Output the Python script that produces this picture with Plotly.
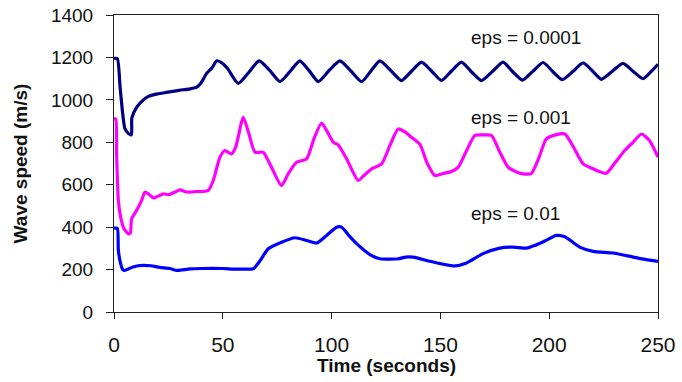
import plotly.graph_objects as go

# eps = 0.0001 (navy)
t_navy = [0, 1.5, 2.8, 4, 5, 6.6, 8, 8.2, 10.4, 13, 15.6, 20, 24, 30, 35, 38, 40, 42.6, 45, 47.2, 49, 52,
          57.1, 62, 66.7, 71.5, 76.3, 81, 85.4, 89.5, 93.9, 99, 103.8, 109, 113.8, 118, 122.2, 127,
          132.1, 136.7, 141.3, 146, 150.5, 155, 159.7, 164, 168.9, 174, 178.8, 183, 187.7, 192.5,
          197.2, 201.5, 206.1, 211, 215.6, 220, 224, 229, 233.9, 238.5, 243.1, 247, 250]
v_navy = [1195, 1195, 1060, 935, 865, 842, 835, 915, 965, 995, 1015, 1028, 1035, 1045, 1052, 1060, 1080, 1125, 1150, 1184, 1178, 1150,
          1078, 1130, 1184, 1140, 1086, 1135, 1184, 1140, 1086, 1140, 1184, 1135, 1086, 1135, 1184, 1140,
          1091, 1135, 1178, 1135, 1091, 1135, 1178, 1135, 1091, 1135, 1178, 1135, 1093, 1135,
          1176, 1135, 1095, 1135, 1174, 1135, 1097, 1135, 1172, 1135, 1100, 1135, 1168]

# eps = 0.001 (magenta)
t_mag = [0, 0.8, 1.2, 2, 3, 4.5, 6.6, 7.5, 8.1, 10.4, 12.7, 14.2, 16, 18.1, 20, 22.7, 25, 28, 30.3, 32.5, 34.9, 38, 41,
         43.3, 45.6, 48.7, 51, 54, 56, 59.4, 62, 64.8, 68.6, 72, 77, 80, 83.9, 88.5, 92, 95.4, 98, 100.8, 103,
         107, 112.2, 115, 118.4, 123, 127, 130.6, 133.5, 136.7, 140.6, 144, 147.5, 151, 155.1, 158.2, 162,
         165.8, 169.5, 173.5, 177, 181.1, 185, 188, 191.8, 195, 198.7, 203, 207.2, 211, 215.6, 220.2, 223,
         226.3, 230, 234.7, 238.5, 242.4, 246, 250]
v_mag = [910, 910, 746, 526, 450, 395, 369, 372, 440, 479, 526, 565, 555, 538, 545, 557, 553, 565, 576, 568, 565, 568, 568,
         573, 620, 730, 761, 745, 780, 918, 840, 753, 753, 690, 596, 650, 706, 722, 820, 891, 850, 800, 788,
         720, 620, 645, 675, 698, 790, 863, 850, 824, 790, 700, 643, 652, 662, 683, 760,
         832, 835, 832, 760, 683, 660, 651, 653, 720, 816, 835, 839, 780, 698, 675, 662,
         654, 700, 761, 800, 839, 810, 730]

# eps = 0.01 (blue)
t_blue = [0, 1.5, 2, 3, 4, 5, 7, 8.8, 11, 13.5, 17, 21, 25.7, 28.8, 31, 34.9, 40, 50, 55, 60, 64, 67, 70.9, 77,
          83.1, 88.5, 93.1, 97.7, 102.3, 104.6, 108, 111.5, 117.6, 122.2, 130.6, 134, 137.5, 145.2, 150,
          156.6, 162, 169.6, 177.3, 183.4, 189.6, 193.4, 198, 203.3, 207.2, 214, 220.2, 229.4, 238.6, 244, 250]
v_blue = [395, 395, 290, 230, 200, 196, 205, 212, 218, 220, 218, 210, 205, 196, 198, 203, 205, 205, 202, 202, 204, 240, 298, 329,
          350, 337, 325, 361, 400, 400, 360, 322, 271, 251, 251, 259, 259, 239, 228,
          217, 231, 275, 301, 306, 301, 314, 335, 361, 355, 306, 286, 278, 259, 248, 239]

labels = ["eps = 0.0001", "eps = 0.001", "eps = 0.01"]
label_t = [163.2, 163.2, 163.2]
label_v = [1293, 916, 464]

x_ticks = [0, 50, 100, 150, 200, 250]
y_ticks = [0, 200, 400, 600, 800, 1000, 1200, 1400]

fig = go.Figure()
for t, v, c in [(t_blue, v_blue, "#0000FF"), (t_mag, v_mag, "#FF00FF"), (t_navy, v_navy, "#000080")]:
    fig.add_trace(go.Scatter(x=t, y=v, mode="lines",
                             line=dict(color=c, width=3.2, shape="spline", smoothing=0.6),
                             showlegend=False, hoverinfo="skip"))

for txt, tx, ty in zip(labels, label_t, label_v):
    fig.add_annotation(x=tx, y=ty, text=txt, showarrow=False, xanchor="left", yanchor="middle",
                       font=dict(family="Liberation Sans, Arial", size=19, color="#111"))

# x-axis title placed as paper annotation for exact position
fig.add_annotation(x=0.5, y=-0.18, xref="paper", yref="paper", text="<b>Time (seconds)</b>",
                   showarrow=False, xanchor="center", yanchor="middle",
                   font=dict(family="Liberation Sans, Arial", size=19, color="#111"))

fig.update_layout(
    width=682, height=382,
    margin=dict(l=114, r=24, t=15, b=70, autoexpand=False),
    paper_bgcolor="white", plot_bgcolor="white",
    font=dict(family="Liberation Sans, Arial", color="#111"),
    hovermode=False,
)
fig.update_xaxes(range=[0, 250], tickvals=x_ticks, ticks="outside", ticklen=6, tickcolor="#222",
                 showline=True, linecolor="#222", linewidth=1, mirror=True, showgrid=False, zeroline=False,
                 tickfont=dict(size=21), ticklabelstandoff=8, automargin=False, ticklabeloverflow="allow")
fig.update_yaxes(range=[0, 1400], tickvals=y_ticks, ticks="outside", ticklen=7, tickcolor="#222",
                 showline=True, linecolor="#222", linewidth=1, mirror=True, showgrid=False, zeroline=False,
                 tickfont=dict(size=19), ticklabelstandoff=9, automargin=False, ticklabeloverflow="allow",
                 title=dict(text="<b>Wave speed (m/s)</b>", font=dict(size=19), standoff=18))

fig.write_html("out.html", config={"displayModeBar": False},
               post_script="document.body.style.margin='0';document.body.style.overflow='hidden';")
